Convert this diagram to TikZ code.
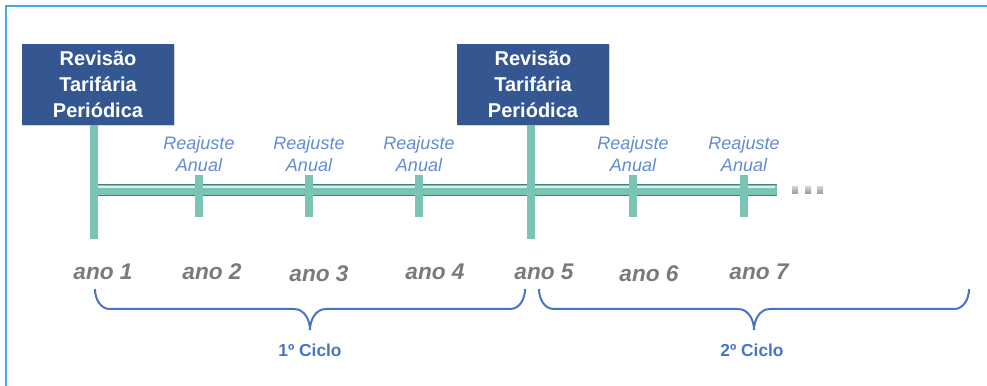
\documentclass[tikz,border=0pt]{standalone}
\usepackage{fontspec}
\setmainfont{Liberation Sans}
\usetikzlibrary{positioning,shadows,calc}

\definecolor{rtpblue}{RGB}{52,87,145}
\definecolor{barteal}{RGB}{122,196,182}
\definecolor{barlight}{RGB}{210,244,238}
\definecolor{baredge}{RGB}{74,128,118}
\definecolor{anualblue}{RGB}{96,140,214}
\definecolor{anogrey}{RGB}{122,122,122}
\definecolor{cicloblue}{RGB}{72,116,200}
\definecolor{framecol}{RGB}{64,172,224}

\begin{document}
\begin{tikzpicture}[x=0.75pt,y=0.75pt,
  rtp/.style={fill=rtpblue,text=white,align=center,inner sep=0pt,
    minimum width=114pt,minimum height=60.75pt,
    font=\fontsize{15}{19.5}\selectfont\bfseries,
    drop shadow={opacity=0.35,shadow xshift=1pt,shadow yshift=-1pt}},
  stem/.style={draw=baredge,line width=0.6pt,double=barteal,double distance=5.4pt},
  bar/.style={draw=baredge,line width=0.6pt,double=barteal,double distance=7.6pt},
  anual/.style={text=anualblue,align=center,inner sep=0pt,
    font=\fontsize{13.5}{16.5}\selectfont\itshape},
  ano/.style={text=anogrey,inner sep=0pt,font=\fontsize{17}{20}\selectfont\bfseries\itshape},
  ciclo/.style={text=cicloblue,inner sep=0pt,font=\fontsize{13}{15}\selectfont\bfseries},
  cyclebrace/.style={draw=cicloblue,line width=1.5pt}]
\useasboundingbox (0,0) rectangle (987,385);
\draw[framecol,line width=1.5pt] (6,-5) -- (6,379) -- (995,379);

% revisoes tarifarias
\node[rtp] (rtp1) at (98,300.5) {Revisão\\Tarifária\\Periódica};
\node[rtp] (rtp2) at (533,300.5) {Revisão\\Tarifária\\Periódica};
\coordinate (s1) at ($(rtp1.south)+(-3pt,0)$);
\coordinate (s2) at ($(rtp2.south)+(-1.5pt,0)$);

% linha do tempo
\coordinate (fim) at (777,195);
\draw[bar] (s1 |- fim) -- (fim);
\draw[barlight,line width=1.3pt] ($(s1 |- fim)+(4,3)$) -- ($(fim)+(-2,3)$);
\draw[stem] (s1) -- ++(0,-114);
\draw[stem] (s2) -- ++(0,-114);

% reajustes anuais
\foreach \x/\n in {199/1,309/2,419/3,633/4,744/5}{
  \coordinate (t\n) at (\x,195);
  \draw[stem] ($(t\n)+(0,15)$) -- ($(t\n)+(0,-27)$);
  \node[anual] (ra\n) at (\x,231) {Reajuste\\Anual};
}
\foreach \x in {795,808,820}
  \fill[top color=gray!35,bottom color=gray!80] (\x-3,191.5) rectangle (\x+3,198.5);

% anos
\foreach \x/\y/\n in {103/113/1,212/113/2,319/111/3,435/113/4,544/113/5,649/111/6,759/113/7}
  \node[ano] (ano\n) at (\x,\y) {ano \n};

% ciclos
\draw[cyclebrace] (95,96) to[out=-90,in=180] (110,76) -- (294,76)
  to[out=0,in=90] (310,55) to[out=90,in=180] (326,76) -- (510,76) to[out=0,in=-90] (525,96);
\draw[cyclebrace] (539,96) to[out=-90,in=180] (554,76) -- (738,76)
  to[out=0,in=90] (754,55) to[out=90,in=180] (770,76) -- (954,76) to[out=0,in=-90] (969,96);
\node[ciclo] (ciclo1) at (310,35) {1º Ciclo};
\node[ciclo] (ciclo2) at (752,35) {2º Ciclo};
\end{tikzpicture}
\end{document}
